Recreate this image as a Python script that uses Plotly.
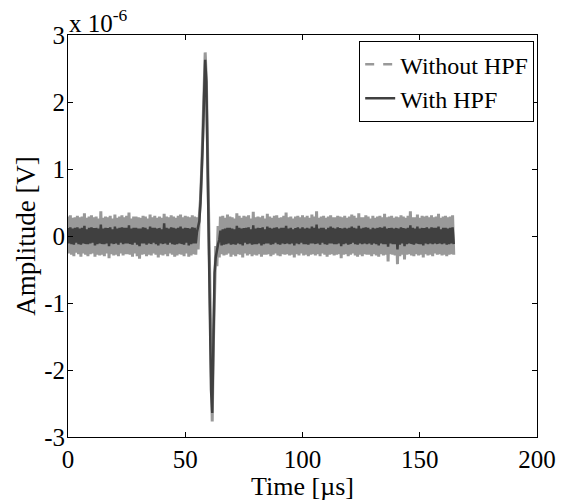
import numpy as np
import plotly.graph_objects as go

# sample interval of the recorded traces [us]
dt = 0.5

# amplitude in units of 1e-6 V, sampled every dt from t = 0
without_hpf = [
    # 0 - 54.5 us
    0.29, -0.26, 0.31, -0.28, 0.27, -0.30, 0.28, -0.25, 0.30, -0.27,
    0.28, -0.31, 0.29, -0.26, 0.34, -0.28, 0.27, -0.30, 0.29, -0.27,
    0.31, -0.26, 0.28, -0.31, 0.29, -0.28, 0.26, -0.29, 0.37, -0.28,
    0.27, -0.30, 0.29, -0.26, 0.28, -0.33, 0.30, -0.27, 0.26, -0.29,
    0.32, -0.28, 0.27, -0.30, 0.29, -0.26, 0.31, -0.29, 0.28, -0.27,
    0.30, -0.27, 0.35, -0.28, 0.26, -0.31, 0.29, -0.26, 0.29, -0.30,
    0.28, -0.34, 0.27, -0.28, 0.30, -0.27, 0.29, -0.30, 0.26, -0.28,
    0.32, -0.29, 0.28, -0.26, 0.30, -0.28, 0.27, -0.32, 0.29, -0.28,
    0.27, -0.29, 0.33, -0.27, 0.29, -0.30, 0.28, -0.26, 0.31, -0.28,
    0.29, -0.31, 0.27, -0.29, 0.30, -0.27, 0.32, -0.28, 0.28, -0.30,
    0.30, -0.26, 0.29, -0.31, 0.28, -0.29, 0.31, -0.27, 0.29, -0.28,
    # 55 - 64.5 us (pulse)
    0.28, -0.20, 0.30, 0.55, 0.98, 1.48, 2.10, 2.74, 2.32, 1.28,
    0.02, -1.30, -2.35, -2.77, -1.60, -0.70, -0.15, -0.45, 0.15, -0.32,
    # 65 - 164.5 us
    0.29, -0.27, 0.30, -0.29, 0.27, -0.28, 0.32, -0.26, 0.29, -0.31,
    0.28, -0.28, 0.26, -0.30, 0.34, -0.27, 0.30, -0.28, 0.27, -0.32,
    0.30, -0.26, 0.29, -0.29, 0.31, -0.27, 0.26, -0.30, 0.36, -0.28,
    0.28, -0.29, 0.29, -0.27, 0.28, -0.31, 0.30, -0.28, 0.26, -0.28,
    0.33, -0.27, 0.29, -0.30, 0.27, -0.28, 0.30, -0.26, 0.31, -0.29,
    0.27, -0.30, 0.28, -0.27, 0.30, -0.28, 0.35, -0.27, 0.28, -0.29,
    0.29, -0.28, 0.26, -0.32, 0.29, -0.27, 0.30, -0.29, 0.28, -0.26,
    0.31, -0.29, 0.28, -0.28, 0.30, -0.30, 0.27, -0.28, 0.32, -0.27,
    0.29, -0.29, 0.37, -0.27, 0.27, -0.30, 0.29, -0.26, 0.30, -0.28,
    0.27, -0.31, 0.29, -0.28, 0.31, -0.27, 0.28, -0.29, 0.28, -0.28,
    0.30, -0.27, 0.29, -0.33, 0.28, -0.28, 0.30, -0.27, 0.27, -0.30,
    0.29, -0.28, 0.32, -0.26, 0.30, -0.29, 0.27, -0.31, 0.34, -0.28,
    0.28, -0.30, 0.28, -0.27, 0.31, -0.28, 0.29, -0.28, 0.26, -0.30,
    0.30, -0.27, 0.27, -0.29, 0.29, -0.31, 0.30, -0.27, 0.28, -0.29,
    0.33, -0.28, 0.28, -0.38, 0.29, -0.27, 0.30, -0.28, 0.27, -0.29,
    0.29, -0.42, 0.28, -0.30, 0.31, -0.28, 0.29, -0.35, 0.27, -0.28,
    0.30, -0.27, 0.37, -0.29, 0.28, -0.30, 0.28, -0.27, 0.32, -0.29,
    0.27, -0.28, 0.30, -0.32, 0.29, -0.27, 0.30, -0.29, 0.28, -0.28,
    0.31, -0.30, 0.28, -0.26, 0.29, -0.28, 0.33, -0.27, 0.27, -0.29,
    0.29, -0.28, 0.30, -0.30, 0.28, -0.28, 0.29, -0.27, 0.31, -0.28,
]

with_hpf = [
    # 0 - 54.5 us
    0.12, -0.11, 0.13, -0.12, 0.11, -0.13, 0.12, -0.10, 0.13, -0.12,
    0.11, -0.13, 0.12, -0.11, 0.15, -0.12, 0.10, -0.12, 0.12, -0.11,
    0.13, -0.10, 0.12, -0.14, 0.12, -0.12, 0.11, -0.11, 0.17, -0.12,
    0.11, -0.12, 0.12, -0.11, 0.12, -0.15, 0.13, -0.11, 0.10, -0.12,
    0.14, -0.11, 0.11, -0.13, 0.12, -0.10, 0.13, -0.12, 0.12, -0.11,
    0.12, -0.11, 0.16, -0.12, 0.11, -0.13, 0.12, -0.10, 0.12, -0.13,
    0.11, -0.15, 0.11, -0.11, 0.13, -0.11, 0.12, -0.13, 0.10, -0.11,
    0.14, -0.12, 0.12, -0.10, 0.12, -0.12, 0.11, -0.14, 0.12, -0.11,
    0.10, -0.12, 0.19, -0.11, 0.12, -0.13, 0.11, -0.10, 0.13, -0.12,
    0.12, -0.13, 0.11, -0.12, 0.12, -0.11, 0.14, -0.12, 0.11, -0.13,
    0.12, -0.10, 0.12, -0.14, 0.11, -0.12, 0.13, -0.11, 0.12, -0.11,
    # 55 - 64.5 us (pulse)
    0.06, 0.12, 0.22, 0.50, 0.92, 1.42, 2.05, 2.63, 2.30, 1.25,
    0.05, -1.25, -2.30, -2.64, -1.50, -0.55, -0.32, -0.20, -0.12, -0.06,
    # 65 - 164.5 us
    0.08, -0.14, 0.10, -0.13, 0.11, -0.12, 0.12, -0.11, 0.12, -0.13,
    0.11, -0.12, 0.10, -0.13, 0.15, -0.11, 0.12, -0.12, 0.11, -0.14,
    0.12, -0.10, 0.12, -0.12, 0.13, -0.11, 0.10, -0.13, 0.16, -0.12,
    0.11, -0.12, 0.12, -0.11, 0.12, -0.14, 0.13, -0.12, 0.10, -0.11,
    0.14, -0.11, 0.12, -0.13, 0.11, -0.12, 0.12, -0.10, 0.13, -0.12,
    0.11, -0.13, 0.12, -0.11, 0.12, -0.12, 0.15, -0.11, 0.11, -0.12,
    0.12, -0.11, 0.10, -0.14, 0.12, -0.11, 0.13, -0.12, 0.11, -0.10,
    0.13, -0.12, 0.11, -0.12, 0.12, -0.13, 0.11, -0.11, 0.14, -0.11,
    0.12, -0.12, 0.17, -0.11, 0.11, -0.13, 0.12, -0.10, 0.12, -0.12,
    0.10, -0.13, 0.12, -0.11, 0.14, -0.11, 0.12, -0.12, 0.11, -0.12,
    0.13, -0.11, 0.12, -0.15, 0.11, -0.12, 0.12, -0.11, 0.11, -0.13,
    0.12, -0.12, 0.14, -0.10, 0.12, -0.12, 0.11, -0.13, 0.15, -0.11,
    0.11, -0.12, 0.12, -0.11, 0.13, -0.12, 0.12, -0.11, 0.10, -0.13,
    0.12, -0.11, 0.11, -0.12, 0.12, -0.14, 0.13, -0.11, 0.12, -0.12,
    0.14, -0.12, 0.11, -0.16, 0.12, -0.11, 0.12, -0.12, 0.11, -0.12,
    0.12, -0.20, 0.11, -0.13, 0.13, -0.11, 0.12, -0.15, 0.11, -0.12,
    0.12, -0.11, 0.16, -0.12, 0.12, -0.13, 0.11, -0.11, 0.14, -0.12,
    0.11, -0.12, 0.12, -0.14, 0.12, -0.11, 0.13, -0.12, 0.11, -0.11,
    0.13, -0.12, 0.12, -0.11, 0.12, -0.12, 0.14, -0.11, 0.10, -0.12,
    0.12, -0.11, 0.12, -0.13, 0.11, -0.12, 0.12, -0.11, 0.13, -0.12,
]

x_ticks = [0, 50, 100, 150, 200]
y_ticks = [-3, -2, -1, 0, 1, 2, 3]
y_labels = ["-3", "-2", "-1", "0", "1", "2", "3"]

t = np.arange(len(without_hpf)) * dt

FONT = "Liberation Serif, DejaVu Serif Condensed, DejaVu Serif, serif"
GRAY = "#999999"
DARK = "#404040"

fig = go.Figure()

# raw trace drawn solid so the dense noise reads as a band; dashed entry for legend
fig.add_trace(go.Scatter(x=t, y=without_hpf, mode="lines",
                         line=dict(color=GRAY, width=3), showlegend=False))
fig.add_trace(go.Scatter(x=t, y=with_hpf, mode="lines",
                         line=dict(color=DARK, width=2.5), showlegend=False))
fig.add_trace(go.Scatter(x=[None], y=[None], mode="lines", name="Without HPF",
                         line=dict(color=GRAY, width=2.5, dash="dash")))
fig.add_trace(go.Scatter(x=[None], y=[None], mode="lines", name="With HPF",
                         line=dict(color=DARK, width=2.5)))

axis_common = dict(
    showline=True, linecolor="black", linewidth=1, mirror="ticks",
    ticks="inside", ticklen=5, tickcolor="black", showgrid=False, zeroline=False,
    automargin=False,
    tickfont=dict(family=FONT, size=25, color="black"),
)

fig.update_xaxes(range=[0, 200], tickvals=x_ticks,
                 title=dict(text="Time [µs]", font=dict(family=FONT, size=26, color="black"),
                            standoff=0),
                 **axis_common)
fig.update_yaxes(range=[-3, 3], tickvals=y_ticks, ticktext=y_labels, ticklabelstandoff=-3,
                 title=dict(text="Amplitude [V]", font=dict(family=FONT, size=27, color="black"),
                            standoff=0),
                 **axis_common)

fig.add_annotation(xref="paper", yref="paper", x=0, y=1, xanchor="left", yanchor="bottom",
                   text="x 10<sup>-6</sup>", showarrow=False, xshift=-1, yshift=-4,
                   font=dict(family=FONT, size=25, color="black"))

fig.update_layout(
    width=571, height=501,
    margin=dict(l=68, r=34, t=35, b=64),
    plot_bgcolor="white", paper_bgcolor="white",
    font=dict(family=FONT, color="black"),
    legend=dict(x=0.994, y=0.985, xanchor="right", yanchor="top",
                bgcolor="white", bordercolor="black", borderwidth=1,
                font=dict(family=FONT, size=24, color="black"),
                tracegroupgap=0, itemwidth=30),
)

# drop the browser's default page margin so the figure sits at the window corner
fig.write_html("out.html", config={"displayModeBar": False},
               post_script="document.body.style.margin = '0';")
